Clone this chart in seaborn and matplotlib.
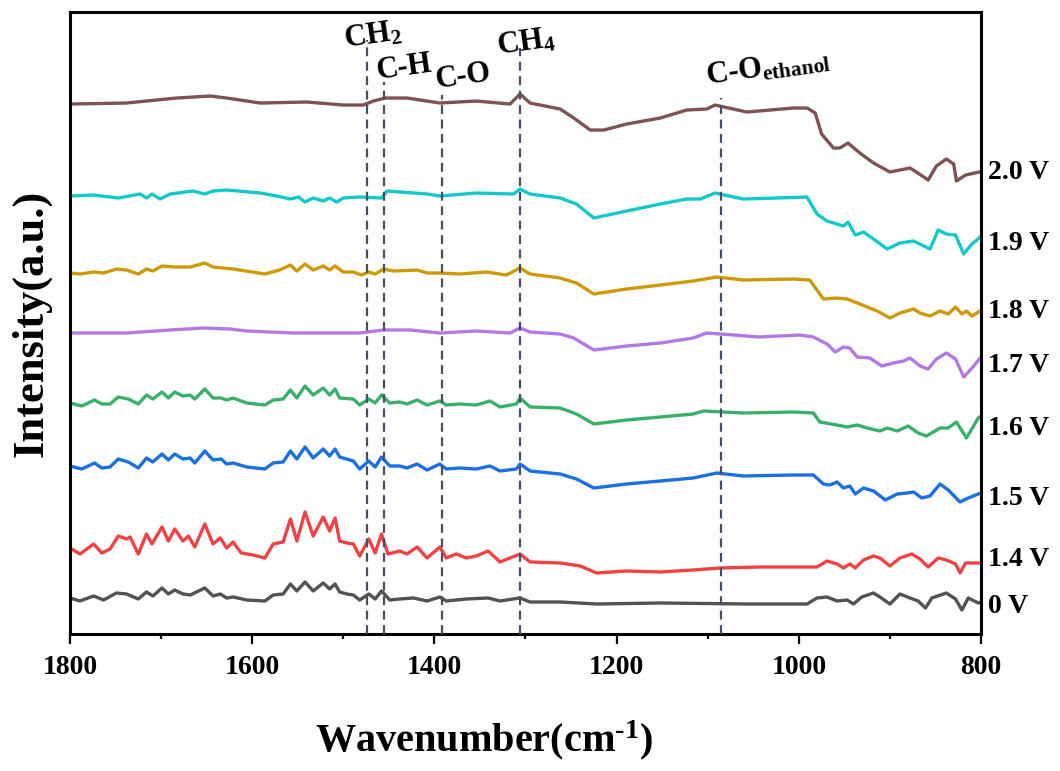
import numpy as np
import pandas as pd
import seaborn as sns
from matplotlib import pyplot as plt
from matplotlib.ticker import MultipleLocator

# spectra (stacked, arbitrary units)
wn_0v = [1800,1789,1774,1763,1749,1738,1725,1716,1709,1699,1692,1685,1676,1668,1652,1643,1635,1628,1621,1606,
         1586,1577,1566,1558,1551,1542,1533,1522,1515,1509,1504,1496,1489,1482,1472,1465,1458,1449,1438,1423,
         1408,1394,1387,1365,1341,1328,1306,1295,1262,1222,1152,1057,991,980,969,958,947,940,931,918,
         911,900,889,878,869,861,854,838,828,821,814,803,800]
int_0v = [36,33,38,34,41,40,35,42,38,46,40,44,40,39,46,38,40,36,37,34,
          33,39,40,50,43,52,43,51,45,50,42,40,39,34,40,35,43,34,35,36,
          33,37,33,35,36,33,36,32,32,30,31,30,30,36,37,33,34,30,37,41,
          37,30,40,36,33,26,36,41,35,24,36,31,32]

wn_14 = [1800,1789,1774,1765,1756,1747,1738,1734,1725,1716,1710,1699,1692,1685,1676,1670,1663,1652,1643,1635,
         1628,1621,1612,1599,1586,1577,1566,1558,1551,1542,1533,1522,1515,1509,1504,1496,1489,1482,1472,1465,
         1458,1451,1438,1430,1419,1408,1394,1387,1376,1365,1354,1341,1328,1317,1306,1295,1262,1240,1222,1189,
         1152,1116,1086,1043,980,969,958,951,944,938,929,918,911,900,889,876,867,858,847,838,
         828,823,817,803,800]
int_14 = [86,80,90,81,85,98,95,97,80,100,90,107,93,105,93,98,87,110,90,96,
          86,92,81,79,76,90,92,115,93,122,98,117,103,116,93,91,90,78,95,81,
          100,80,83,80,87,76,87,76,80,76,78,83,72,76,80,72,71,68,61,63,
          62,64,66,67,67,73,70,66,70,66,74,78,76,68,76,80,75,67,76,74,
          70,61,71,71,71]

wn_15 = [1800,1787,1773,1765,1756,1747,1736,1725,1716,1709,1699,1692,1685,1676,1668,1663,1652,1643,1634,1628,
         1621,1606,1586,1577,1566,1558,1551,1542,1533,1522,1515,1509,1504,1489,1482,1472,1465,1458,1449,1438,
         1430,1419,1408,1394,1387,1372,1354,1339,1328,1310,1306,1295,1262,1244,1225,1189,1152,1116,1090,1061,
         1006,984,973,966,958,951,944,938,929,918,905,892,881,874,865,856,845,836,823,814,
         803,800]
int_15 = [168,165,171,166,167,175,172,166,176,172,180,174,180,175,176,171,183,174,175,170,
          171,167,165,171,172,183,175,187,176,185,178,185,177,173,165,173,167,177,168,168,
          166,170,164,170,165,166,165,168,163,165,170,163,160,155,146,150,153,156,161,158,
          159,159,150,149,152,146,148,140,146,143,134,140,141,142,136,138,150,144,132,136,
          140,141]

wn_16 = [1800,1787,1773,1765,1756,1747,1736,1725,1716,1709,1699,1692,1685,1676,1668,1663,1652,1643,1634,1628,
         1621,1606,1586,1577,1566,1558,1551,1542,1533,1522,1515,1509,1504,1489,1482,1472,1465,1458,1449,1438,
         1430,1419,1408,1394,1387,1372,1354,1339,1328,1310,1306,1295,1262,1244,1225,1189,1152,1116,1105,1061,
         1006,984,977,958,947,936,925,911,903,892,880,869,860,845,836,827,816,803,800]
int_16 = [231,228,234,230,230,237,235,230,239,235,242,236,242,238,239,235,245,236,236,234,
          236,231,229,234,235,244,236,248,239,246,239,245,236,235,229,235,231,239,231,232,
          230,234,229,233,229,230,229,233,227,230,236,227,226,220,210,214,217,220,223,221,
          222,221,212,209,207,209,206,203,206,203,208,201,198,206,206,212,196,216,218]

wn_17 = [1800,1738,1690,1654,1624,1606,1555,1482,1456,1427,1394,1354,1317,1306,1295,1262,1247,1225,1189,1152,
         1116,1101,1086,1043,999,984,969,960,951,944,936,922,909,896,885,878,867,858,849,838,
         828,819,808,801,800]
int_17 = [301,301,304,306,305,303,301,301,304,304,301,303,301,306,302,300,296,284,288,291,
          296,301,300,297,299,297,290,282,287,286,277,276,268,271,273,276,268,265,275,281,
          275,257,268,276,277]

wn_18 = [1800,1789,1774,1763,1749,1738,1725,1716,1709,1699,1685,1668,1652,1643,1621,1586,1570,1558,1551,1542,
         1533,1522,1515,1509,1500,1489,1480,1472,1465,1456,1445,1419,1408,1394,1372,1343,1321,1306,1295,1262,
         1244,1225,1189,1152,1116,1090,1061,1006,988,973,958,947,933,914,900,889,874,867,856,845,
         836,828,821,816,810,801,800]
int_18 = [361,360,362,361,365,364,360,365,363,368,367,367,371,367,365,360,364,369,363,370,
          364,368,364,368,362,362,359,362,360,365,363,364,361,361,360,362,359,366,360,356,
          351,340,345,349,353,357,354,355,354,335,336,335,330,323,316,321,325,321,318,323,
          320,327,320,323,318,323,324]

wn_19 = [1800,1774,1747,1723,1716,1710,1701,1690,1665,1652,1643,1628,1591,1573,1558,1549,1542,1533,1522,1515,
         1507,1500,1482,1458,1452,1438,1408,1394,1354,1313,1306,1295,1262,1244,1225,1189,1152,1123,1108,1092,
         1061,1024,991,980,969,951,946,938,929,918,903,889,874,856,847,838,828,819,810,802,
         800]
int_19 = [438,439,436,440,436,440,435,440,443,440,443,444,441,438,435,437,432,436,433,436,
          432,436,437,436,443,442,440,438,441,440,445,440,436,430,416,423,430,435,435,441,
          435,436,437,420,413,408,412,399,402,395,385,391,393,385,404,400,399,380,390,396,
          398]

wn_20 = [1800,1738,1683,1646,1628,1591,1540,1500,1478,1467,1454,1430,1394,1354,1317,1306,1295,1262,1247,1229,
         1214,1189,1152,1123,1101,1092,1057,1006,991,982,975,962,955,946,933,918,900,878,871,858,
         849,838,830,827,817,802,800]
int_20 = [530,531,536,538,536,531,532,529,529,533,536,536,531,533,530,540,531,525,516,504,
          504,510,516,524,525,529,522,526,526,521,500,486,486,491,481,471,462,466,462,454,
          468,475,470,453,459,462,462]

potentials = ['0 V', '1.4 V', '1.5 V', '1.6 V', '1.7 V', '1.8 V', '1.9 V', '2.0 V']
colors = ['#525252', '#ef4343', '#1c6fdf', '#3aaf6a', '#b27ae0', '#cc9a06', '#14c8c8', '#7d5252']
label_y = [27, 74, 136, 206, 269, 323, 391, 462]

peaks = [1474, 1455, 1392, 1306, 1085]
peak_tops = [594, 552, 539, 586, 536]
peak_names = ['CH$_2$', 'C-H', 'C-O', 'CH$_4$', 'C-O$_{ethanol}$']
name_x = [1468, 1433, 1369, 1300, 1034]
name_y = [598, 566, 557, 591, 566]

series = [(wn_0v, int_0v), (wn_14, int_14), (wn_15, int_15), (wn_16, int_16),
          (wn_17, int_17), (wn_18, int_18), (wn_19, int_19), (wn_20, int_20)]
frames = []
for p, (wn, it) in zip(potentials, series):
    frames.append(pd.DataFrame({'wavenumber': wn, 'intensity': it, 'potential': p}))
df = pd.concat(frames, ignore_index=True)

sns.set_style('ticks')
plt.rcParams['font.family'] = ['Liberation Serif', 'DejaVu Serif']
plt.rcParams['font.weight'] = 'bold'
plt.rcParams['text.color'] = 'black'
plt.rcParams['axes.labelcolor'] = 'black'
plt.rcParams['xtick.color'] = 'black'
plt.rcParams['mathtext.fontset'] = 'custom'
plt.rcParams['mathtext.rm'] = 'Liberation Serif:bold'
plt.rcParams['mathtext.it'] = 'Liberation Serif:bold'
plt.rcParams['mathtext.bf'] = 'Liberation Serif:bold'

fig, ax = plt.subplots(figsize=(10.6, 7.71), dpi=100)
fig.subplots_adjust(left=0.066, right=0.9255, top=0.9844, bottom=0.1777)

sns.lineplot(data=df, x='wavenumber', y='intensity', hue='potential', hue_order=potentials,
             palette=dict(zip(potentials, colors)), estimator=None, sort=False,
             lw=2.4, legend=False, ax=ax)

ax.vlines(peaks, 0, peak_tops, colors='#435064', lw=1.6, linestyles=(0, (4, 2.5)), zorder=3)
for name, x, y in zip(peak_names, name_x, name_y):
    ax.text(x, y, name, fontsize=22, fontweight='bold', ha='center', va='center',
            rotation=8, rotation_mode='anchor')

for p, y in zip(potentials, label_y):
    ax.text(792, y, p, fontsize=20, fontweight='bold', ha='left', va='center', clip_on=False)

ax.set_xlim(1800, 800)
ax.set_ylim(0, 622)
ax.xaxis.set_major_locator(MultipleLocator(200))
ax.xaxis.set_minor_locator(MultipleLocator(100))
ax.set_yticks([])
ax.tick_params(axis='x', which='major', length=7, width=1.6, labelsize=20, pad=8, direction='out')
ax.tick_params(axis='x', which='minor', length=3.6, width=1.6, direction='out')
for lab in ax.get_xticklabels():
    lab.set_fontweight('bold')
for s in ax.spines.values():
    s.set_linewidth(2.2)
    s.set_color('black')

ax.set_xlabel('Wavenumber(cm$^{\u2010 1}$)', fontsize=29, fontweight='bold')
ax.xaxis.set_label_coords(0.454, -0.135)
ax.set_ylabel('Intensity(a.u.)', fontsize=32, fontweight='bold')
ax.yaxis.set_label_coords(-0.02, 0.5)

fig.savefig('out.png', dpi=100, facecolor='white')
